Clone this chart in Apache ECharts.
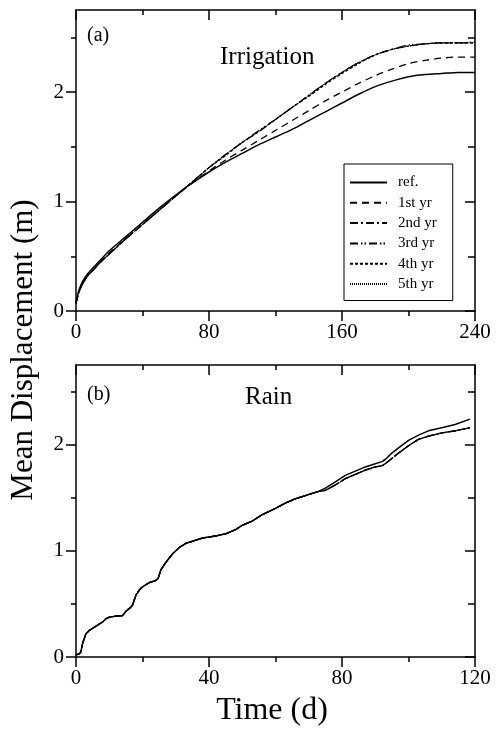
<!DOCTYPE html>
<html>
<head>
<meta charset="utf-8">
<script src="https://cdn.jsdelivr.net/npm/echarts@6/dist/echarts.min.js"></script>
<style>
html,body{margin:0;padding:0;background:#fff;}
#chart{width:499px;height:731px;}
</style>
</head>
<body>
<div id="chart"></div>
<script>
// ---------- data ----------
var irrDays = [0,1,2,4,7,10,15,20,30,40,50,60,70,80,90,100,110,120,130,140,150,160,170,180,190,200,210,220,230,240];
var irrRef  = [0.08,0.15,0.20,0.27,0.34,0.39,0.47,0.55,0.68,0.81,0.94,1.06,1.17,1.27,1.36,1.44,1.52,1.59,1.66,1.74,1.82,1.90,1.98,2.05,2.10,2.14,2.16,2.17,2.18,2.18];
var irrYr1  = [0.07,0.13,0.18,0.25,0.32,0.37,0.45,0.53,0.66,0.79,0.92,1.05,1.17,1.28,1.38,1.47,1.56,1.65,1.74,1.83,1.92,2.00,2.08,2.15,2.21,2.26,2.29,2.31,2.32,2.32];
var irrYr2  = [0.07,0.13,0.18,0.25,0.32,0.37,0.45,0.52,0.66,0.79,0.92,1.05,1.18,1.31,1.43,1.54,1.64,1.75,1.86,1.97,2.08,2.18,2.27,2.34,2.39,2.42,2.44,2.45,2.45,2.45];
var irrYr3  = [0.07,0.13,0.18,0.25,0.32,0.37,0.45,0.52,0.66,0.79,0.92,1.05,1.18,1.31,1.43,1.54,1.65,1.75,1.86,1.97,2.08,2.18,2.27,2.34,2.39,2.43,2.44,2.45,2.45,2.46];
var irrYr4  = [0.07,0.13,0.18,0.25,0.32,0.37,0.45,0.52,0.66,0.79,0.92,1.05,1.18,1.31,1.42,1.54,1.64,1.75,1.86,1.96,2.07,2.17,2.26,2.34,2.39,2.42,2.44,2.45,2.45,2.45];
var irrYr5  = [0.07,0.13,0.18,0.25,0.32,0.37,0.45,0.52,0.66,0.79,0.92,1.05,1.18,1.31,1.43,1.54,1.64,1.75,1.86,1.97,2.08,2.18,2.27,2.34,2.39,2.42,2.44,2.45,2.45,2.45];

var rainDays = [0,1,1.5,2,3,4,6,8,9,10,12,14,15,16.5,17,18,19,20,22,24,24.7,25.5,27,29,31,33,35,38,42,45,48,50,53,56,60,63,66,70,73,75,78,81,84,87,90,92,93,95,97,100,103,106,110,114,118.5];
var rainRef  = [0.02,0.03,0.05,0.13,0.22,0.25,0.29,0.33,0.36,0.375,0.385,0.39,0.43,0.47,0.49,0.58,0.63,0.66,0.70,0.72,0.74,0.82,0.89,0.97,1.03,1.07,1.09,1.12,1.14,1.16,1.20,1.24,1.28,1.34,1.40,1.45,1.49,1.53,1.56,1.59,1.65,1.71,1.75,1.79,1.82,1.84,1.86,1.92,1.97,2.04,2.09,2.13,2.16,2.19,2.24];
var rainYears= [0.02,0.03,0.05,0.13,0.22,0.25,0.29,0.33,0.36,0.375,0.385,0.39,0.43,0.47,0.49,0.58,0.63,0.66,0.70,0.72,0.74,0.82,0.89,0.97,1.03,1.07,1.09,1.12,1.14,1.16,1.20,1.24,1.28,1.34,1.40,1.45,1.49,1.53,1.56,1.57,1.62,1.68,1.72,1.76,1.79,1.80,1.82,1.87,1.92,1.99,2.05,2.08,2.11,2.13,2.16];

var seriesNames = ['ref.','1st yr','2nd yr','3rd yr','4th yr','5th yr'];
var irrTicksMajor = [0,80,160,240];
var irrTicksMinor = [40,120,200];
var rainTicksMajor = [0,40,80,120];
var rainTicksMinor = [20,60,100];
var yTicksMajor = [0,1,2];
var yTicksMinor = [0.5,1.5,2.5];

// ---------- helpers ----------
var FONT = 'Liberation Serif';
function pairs(xs, ys){ return xs.map(function(x,i){ return [x, ys[i]]; }); }
var styles = [
  {type:'solid', width:1.5},
  {type:[7,5], width:1.3},
  {type:[8,3,2,3], width:1.2},
  {type:[8,3,1.5,2,1.5,3], width:1.2},
  {type:[3,2], width:1.2},
  {type:[1,1], width:1}
];

function xAxes(grid, max, major, minor){
  var base = {type:'value', gridIndex:grid, min:0, max:max, interval:max/6, splitLine:{show:false}};
  return [
    Object.assign({}, base, {position:'bottom',
      axisLine:{show:true, onZero:false, lineStyle:{color:'#000', width:1.5}},
      axisTick:{show:true, inside:false, length:10, customValues:major, lineStyle:{color:'#000', width:1.5}},
      axisLabel:{show:true, customValues:major, margin:11, fontFamily:FONT, fontSize:21, color:'#000'}}),
    Object.assign({}, base, {position:'bottom',
      axisLine:{show:false, onZero:false},
      axisTick:{show:true, inside:false, length:5, customValues:minor, lineStyle:{color:'#000', width:1.5}},
      axisLabel:{show:false}}),
    Object.assign({}, base, {position:'top',
      axisLine:{show:true, onZero:false, lineStyle:{color:'#000', width:1.5}},
      axisTick:{show:true, inside:true, length:10, customValues:major, lineStyle:{color:'#000', width:1.5}},
      axisLabel:{show:false}}),
    Object.assign({}, base, {position:'top',
      axisLine:{show:false, onZero:false},
      axisTick:{show:true, inside:true, length:5, customValues:minor, lineStyle:{color:'#000', width:1.5}},
      axisLabel:{show:false}})
  ];
}
function yAxes(grid){
  var base = {type:'value', gridIndex:grid, min:0, max:2.75, interval:0.25, splitLine:{show:false}};
  return [
    Object.assign({}, base, {position:'left',
      axisLine:{show:true, onZero:false, lineStyle:{color:'#000', width:1.5}},
      axisTick:{show:true, inside:false, length:10, customValues:yTicksMajor, lineStyle:{color:'#000', width:1.5}},
      axisLabel:{show:true, customValues:yTicksMajor, margin:12, fontFamily:FONT, fontSize:21, color:'#000'}}),
    Object.assign({}, base, {position:'left',
      axisLine:{show:false, onZero:false},
      axisTick:{show:true, inside:false, length:5, customValues:yTicksMinor, lineStyle:{color:'#000', width:1.5}},
      axisLabel:{show:false}}),
    Object.assign({}, base, {position:'right',
      axisLine:{show:true, onZero:false, lineStyle:{color:'#000', width:1.5}},
      axisTick:{show:true, inside:true, length:10, customValues:yTicksMajor, lineStyle:{color:'#000', width:1.5}},
      axisLabel:{show:false}}),
    Object.assign({}, base, {position:'right',
      axisLine:{show:false, onZero:false},
      axisTick:{show:true, inside:true, length:7, customValues:yTicksMinor, lineStyle:{color:'#000', width:1.5}},
      axisLabel:{show:false}})
  ];
}

function line(name, data, style, xi, yi, z, smooth){
  return {type:'line', name:name, data:data, xAxisIndex:xi, yAxisIndex:yi,
    symbol:'none', showSymbol:false, smooth:smooth || false, z:z||2,
    lineStyle:{color:'#000', type:style.type, width:style.width},
    itemStyle:{color:'#000'}, emphasis:{disabled:true}};
}

var irrSets = [irrRef, irrYr1, irrYr2, irrYr3, irrYr4, irrYr5];
var series = [];
irrSets.forEach(function(ys, i){
  series.push(line(seriesNames[i], pairs(irrDays, ys), styles[i], 0, 0, 6-i, 0.3));
});
series.push(line(seriesNames[0], pairs(rainDays, rainRef), styles[0], 4, 4, 6));
for (var k=1;k<6;k++){
  series.push(line(seriesNames[k], pairs(rainDays, rainYears), styles[k], 4, 4, 6-k));
}

var option = {
  animation:false,
  backgroundColor:'#fff',
  grid:[
    {left:76, top:10, width:399, height:301, containLabel:false},
    {left:76, top:365, width:399, height:292, containLabel:false}
  ],
  xAxis: xAxes(0, 240, irrTicksMajor, irrTicksMinor).concat(xAxes(1, 120, rainTicksMajor, rainTicksMinor)),
  yAxis: yAxes(0).concat(yAxes(1)),
  legend:{
    data:seriesNames, orient:'vertical', left:344, top:164,
    itemWidth:37, itemHeight:14, itemGap:5.3,
    padding:[11,16,9,5], borderColor:'#000', borderWidth:1, borderRadius:0,
    backgroundColor:'#fff', selectedMode:false,
    itemStyle:{color:'transparent', borderWidth:0, opacity:0},
    textStyle:{fontFamily:FONT, fontSize:15, color:'#000', padding:[0,0,0,6]}
  },
  series: series,
  graphic:[
    {type:'text', left:87, top:26, style:{text:'(a)', font:'20px "Liberation Serif"', fill:'#000'}},
    {type:'text', left:220, top:45, style:{text:'Irrigation', font:'25px "Liberation Serif"', fill:'#000'}},
    {type:'text', left:87, top:385, style:{text:'(b)', font:'20px "Liberation Serif"', fill:'#000'}},
    {type:'text', left:245, top:385, style:{text:'Rain', font:'25px "Liberation Serif"', fill:'#000'}},
    {type:'text', x:272, y:711, style:{text:'Time (d)', font:'32px "Liberation Serif"', fill:'#000', textAlign:'center', textVerticalAlign:'middle'}},
    {type:'text', x:24, y:350, rotation:Math.PI/2, style:{text:'Mean Displacement (m)', font:'31px "Liberation Serif"', fill:'#000', textAlign:'center', textVerticalAlign:'middle'}}
  ]
};

var chart = echarts.init(document.getElementById('chart'), null, {renderer:'canvas'});
chart.setOption(option);
</script>
</body>
</html>
